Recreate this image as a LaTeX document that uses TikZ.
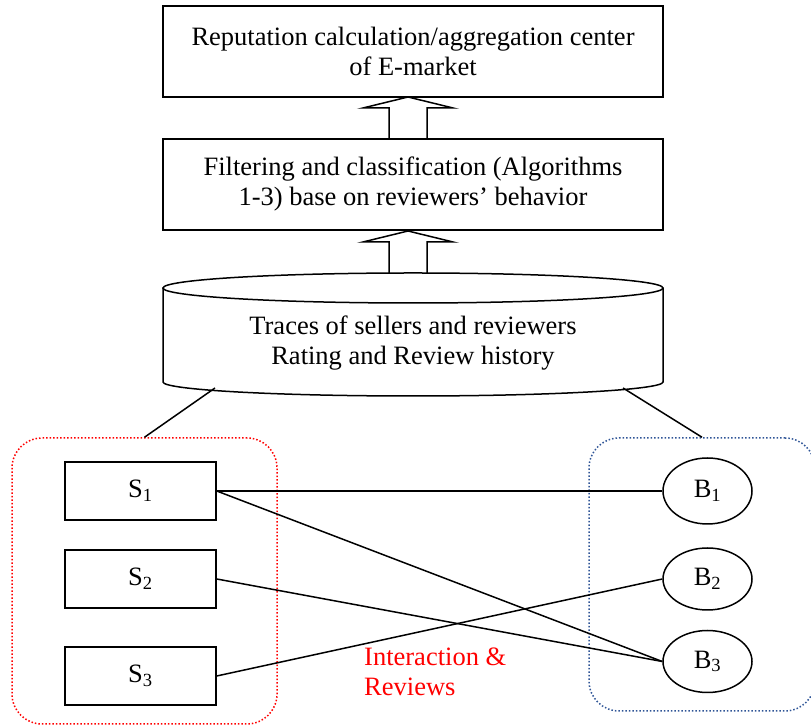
\documentclass[tikz,border=0pt]{standalone}
\usepackage{fontspec}
\setmainfont{Liberation Serif}
\usepackage{tikz}
\usetikzlibrary{calc,positioning,shapes}
\definecolor{buyerblue}{HTML}{2F5597}
\tikzset{box/.style={draw,rectangle,line width=1.5pt,minimum width=500pt,minimum
height=91pt,inner sep=0pt,align=center},seller/.style={draw,rectangle,line width=1.5pt,minimum
width=151pt,minimum height=58pt,inner sep=0pt},buyer/.style={draw,ellipse,line width=1.5pt,minimum
width=89pt,minimum height=62pt,inner sep=0pt}}
\tikzstyle{group}     = [draw, dotted, line width=1.5pt, rounded corners=30pt, inner sep=0pt]
\tikzstyle{link}      = [line width=1.5pt]

\begin{document}
\begin{tikzpicture}[x=1pt,y=1pt,
			every node/.style={font=\fontsize{26.5}{30}\selectfont}
		]
		\useasboundingbox (0,0) rectangle (811,727);
		% upper blocks
		\node[box] (center) at (413,675.5) {Reputation calculation/aggregation center\\of E-market};
		\node[box] (filter) at (413,542.5) {Filtering and classification (Algorithms\\1-3) base on reviewers' behavior};
		% hollow block arrows
		\foreach \ybot in {454,588}
			\draw[link] (389,\ybot) -- ++(0,31) -- ++(-26,0) -- ++(45,11) -- ++(45,-11) -- ++(-26,0) -- ++(0,-31);
		% database
		\node[align=center,inner sep=0pt] (traces) at (413,384) {Traces of sellers and reviewers\\Rating and Review history};
		\draw[link] (163,439) -- (163,345) arc[start angle=180,end angle=360,x radius=250,y radius=14] -- (663,439);
		\draw[link] (413,439) ellipse [x radius=250,y radius=15];
		\coordinate (dbL) at (215,339);
		\coordinate (dbR) at (623,339);
		% groups
		\node[group,red,minimum width=265pt,minimum height=286pt] (sellers) at (144.5,146) {};
		\node[group,buyerblue,minimum width=226pt,minimum height=273pt] (buyers) at (702,152.5) {};
		\draw[link] (dbL) -- (sellers.north);
		\draw[link] (dbR) -- (buyers.north);
		% sellers and buyers
		\node[seller] (S1) at (140.5,236) {S\textsubscript{1}};
		\node[seller] (S2) at (140.5,148) {S\textsubscript{2}};
		\node[seller] (S3) at (140.5,51) {S\textsubscript{3}};
		\node[buyer,minimum height=66pt] (B1) at (707.5,236) {B\textsubscript{1}};
		\node[buyer] (B2) at (707.5,148) {B\textsubscript{2}};
		\node[buyer] (B3) at (707.5,65.5) {B\textsubscript{3}};
		\draw[link] (S1.east) -- (B1.west);
		\draw[link] (S1.east) -- (B3.west);
		\draw[link] (S2.east) -- (B3.west);
		\draw[link] (S3.east) -- (B2.west);
		\node[red,align=left,anchor=north west,inner sep=0pt] (label) at (364,79) {Interaction \&\\Reviews};
	\end{tikzpicture}
\end{document}
